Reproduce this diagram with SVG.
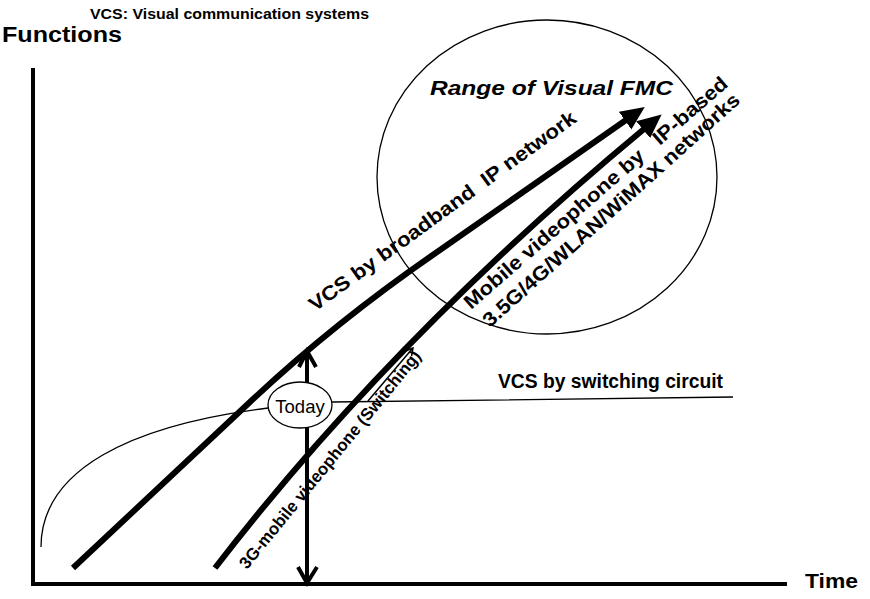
<svg xmlns="http://www.w3.org/2000/svg" width="870" height="599" viewBox="0 0 870 599">
<style>
text{font-family:"Liberation Sans",Arial,sans-serif;fill:#000}
.b{font-weight:bold}
.thick{fill:none;stroke:#000;stroke-width:6}
.thin{fill:none;stroke:#000;stroke-width:1.3}
.axis{fill:none;stroke:#000;stroke-width:4}
.open{fill:none;stroke:#000;stroke-width:4;stroke-linejoin:miter}
</style>
<defs>
<marker id="tri" markerUnits="userSpaceOnUse" markerWidth="24" markerHeight="22" viewBox="0 0 22 20" refX="1" refY="10" orient="auto">
<path d="M0,0 L22,10 L0,20 z" fill="#000"/>
</marker>
</defs>
<rect width="870" height="599" fill="#fff"/>
<g id="axes">
<line class="axis" x1="33" y1="68" x2="33" y2="586"/>
<line class="axis" x1="31" y1="584" x2="787" y2="584"/>
<text class="b" x="2" y="42" font-size="22" textLength="120" lengthAdjust="spacingAndGlyphs">Functions</text>
<text class="b" x="805" y="588" font-size="20" textLength="53" lengthAdjust="spacingAndGlyphs">Time</text>
</g>
<text class="b" x="90" y="19" font-size="15.5" textLength="279" lengthAdjust="spacingAndGlyphs">VCS: Visual communication systems</text>
<g id="range">
<ellipse cx="547" cy="177" rx="170" ry="157" class="thin"/>
<text class="b" x="430" y="95" font-size="21" font-style="italic" textLength="243" lengthAdjust="spacingAndGlyphs">Range of Visual FMC</text>
</g>
<g id="connectors">
<path class="thin" d="M41,547 C41,470 130,425 268,408 L332,402 L733,397"/>
<path class="thick" d="M73,568 L250,402 C310,345.6 370,298 440,250 L626,120" marker-end="url(#tri)"/>
<path class="thick" d="M215,568 Q392,338 644,129" marker-end="url(#tri)"/>
<line x1="307" y1="352" x2="307" y2="582" stroke="#000" stroke-width="4"/>
<path class="open" d="M299,367 L307,351 L316,367"/>
<path class="open" d="M298,567 L307,583 L317,567"/>
<line x1="368" y1="401" x2="412" y2="349" stroke="#000" stroke-width="1.5"/>
<path d="M405.5,351 L413,348 L411.6,356" fill="none" stroke="#000" stroke-width="1.5"/>
</g>
<g id="today">
<ellipse cx="300" cy="405" rx="32" ry="23" fill="#fff" stroke="#000" stroke-width="1.3"/>
<text x="300" y="413" font-size="18.5" text-anchor="middle">Today</text>
</g>
<g id="labels">
<text class="b" font-size="20" xml:space="preserve" transform="translate(315,312) rotate(-36)" textLength="325" lengthAdjust="spacingAndGlyphs">VCS by broadband  IP network</text>
<text class="b" font-size="20" xml:space="preserve" transform="translate(471,310) rotate(-41)" textLength="342" lengthAdjust="spacingAndGlyphs">Mobile videophone by   IP-based</text>
<text class="b" font-size="20" transform="translate(490,328) rotate(-42)" textLength="338" lengthAdjust="spacingAndGlyphs">3.5G/4G/WLAN/WiMAX networks</text>
<text class="b" font-size="17" transform="translate(247,570) rotate(-50.7)" textLength="276" lengthAdjust="spacingAndGlyphs">3G-mobile videophone (Switching)</text>
<text class="b" x="498" y="388" font-size="19.5" textLength="225" lengthAdjust="spacingAndGlyphs">VCS by switching circuit</text>
</g>
</svg>
